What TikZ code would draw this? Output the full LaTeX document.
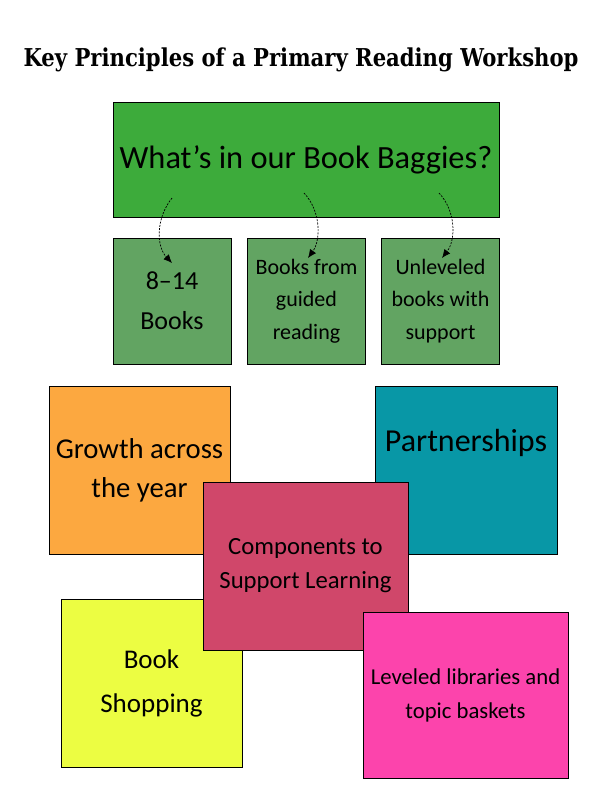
\documentclass[tikz,border=0pt]{standalone}
\usepackage{fontspec}
\setmainfont{Carlito}
\newfontfamily\titlefont[FakeStretch=0.86]{DejaVu Serif}
\usetikzlibrary{arrows.meta,calc,positioning}
\definecolor{baggreen}{RGB}{61,171,59}
\definecolor{subgreen}{RGB}{98,164,98}
\definecolor{tileorange}{RGB}{252,168,64}
\definecolor{tileteal}{RGB}{8,151,166}
\definecolor{tilecrimson}{RGB}{208,71,106}
\definecolor{tileyellow}{RGB}{236,253,66}
\definecolor{tilepink}{RGB}{252,68,172}
\tikzset{
  box-main/.style={draw,line width=0.8pt,rectangle,fill=baggreen,minimum width=386pt,minimum height=115pt,inner sep=0pt,align=center},
  box-sub/.style={draw,line width=0.8pt,rectangle,fill=subgreen,minimum width=118pt,minimum height=126pt,inner sep=0pt,align=center},
  box-topic/.style={draw,line width=0.8pt,rectangle,inner sep=0pt,align=center},
  hand/.style 2 args={font=\fontsize{#1}{#2}\selectfont},
  dash-arr/.style={-{Latex[length=3mm,width=2.6mm]},line width=0.7pt,dash pattern=on 2pt off 1.3pt},
  heading/.style={font=\titlefont\bfseries\fontsize{24.6}{28}\selectfont},
}
\begin{document}
\begin{tikzpicture}[x=1pt,y=-1pt]
  \useasboundingbox (0,0) rectangle (612,792);

  \node[heading] (ttl) at (301,60) {Key Principles of a Primary Reading Workshop};

  % TOP: book baggies
  \node[box-main,hand={32.4}{40}] (bag) at (306,159.5) {What's in our Book Baggies?};
  \node[box-sub,hand={26}{40}] (b1) at (172,301)   {8--14\\Books};
  \node[box-sub,hand={22}{32.5}] (b2) at (306.5,301) {Books from\\guided\\reading};
  \node[box-sub,hand={22}{32.5}] (b3) at (440.5,301) {Unleveled\\books with\\support};

  \coordinate (a1s) at (172,198);  \coordinate (a1e) at (172,263);
  \coordinate (a2s) at (304,193);  \coordinate (a2e) at (308,258);
  \coordinate (a3s) at (439,193);  \coordinate (a3e) at (442,258);
  \draw[dash-arr] (a1s) .. controls (156,218) and (156,246) .. (a1e);
  \draw[dash-arr] (a2s) .. controls (321,211) and (321,240) .. (a2e);
  \draw[dash-arr] (a3s) .. controls (456,211) and (456,240) .. (a3e);

  % TILES: principles
  \node[box-topic,fill=tileorange,minimum width=181pt,minimum height=168pt,hand={28.7}{39}] (grow) at (139.5,470) {Growth across\\the year};
  \node[box-topic,fill=tileteal,minimum width=182pt,minimum height=168pt] (part) at (466,470) {};
  \node[hand={32}{40}] (partlbl) at (466,443) {Partnerships};
  \node[box-topic,fill=tileyellow,minimum width=181pt,minimum height=168pt,hand={27}{44}] (shop) at (151.5,683) {Book\\Shopping};
  \node[box-topic,fill=tilecrimson,minimum width=205pt,minimum height=168pt,hand={24.7}{34}] (comp) at (305.5,566) {Components to\\Support Learning};
  \node[box-topic,fill=tilepink,minimum width=205pt,minimum height=166pt,hand={22.7}{34}] (lib) at (465.5,695) {Leveled libraries and\\topic baskets};

\end{tikzpicture}
\end{document}
